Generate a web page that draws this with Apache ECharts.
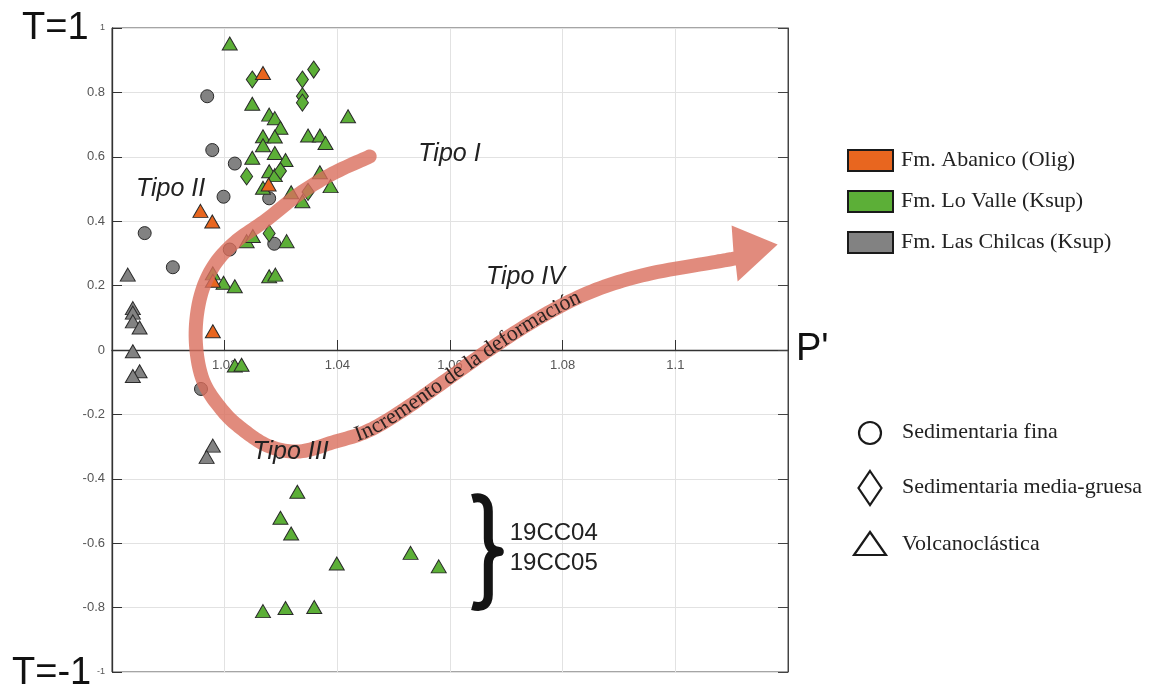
<!DOCTYPE html>
<html>
<head>
<meta charset="utf-8">
<script src="https://cdn.jsdelivr.net/npm/echarts@6/dist/echarts.min.js"></script>
<style>
  html, body { margin: 0; padding: 0; background: #ffffff; }
  #chart { width: 1149px; height: 688px; }
</style>
</head>
<body>
<div id="chart"></div>
<script>
// Lithology codes used as the third value of each sample
const FINA = 0, MEDIA = 1, VOLC = 2;

const formations = ['Fm. Abanico (Olig)', 'Fm. Lo Valle (Ksup)', 'Fm. Las Chilcas (Ksup)'];
const lithologies = ['Sedimentaria fina', 'Sedimentaria media-gruesa', 'Volcanoclástica'];

// Jelinek parameters per sample: [P', T, lithology]
const abanico = [
  [1.0268, 0.860, VOLC], [1.0278, 0.514, VOLC], [1.0157, 0.432, VOLC],
  [1.0178, 0.399, VOLC], [1.0179, 0.215, VOLC], [1.0179, 0.058, VOLC]
];

const loValle = [
  [1.0209, 0.952, VOLC], [1.0249, 0.765, VOLC], [1.0419, 0.726, VOLC],
  [1.0279, 0.731, VOLC], [1.0289, 0.720, VOLC], [1.0299, 0.690, VOLC],
  [1.0268, 0.664, VOLC], [1.0289, 0.663, VOLC], [1.0348, 0.666, VOLC],
  [1.0369, 0.666, VOLC], [1.0379, 0.643, VOLC], [1.0268, 0.636, VOLC],
  [1.0289, 0.612, VOLC], [1.0249, 0.597, VOLC], [1.0308, 0.590, VOLC],
  [1.0279, 0.555, VOLC], [1.0289, 0.543, VOLC], [1.0369, 0.552, VOLC],
  [1.0268, 0.504, VOLC], [1.0388, 0.509, VOLC], [1.0318, 0.490, VOLC],
  [1.0338, 0.462, VOLC], [1.0239, 0.338, VOLC], [1.0250, 0.354, VOLC],
  [1.0310, 0.338, VOLC], [1.0179, 0.238, VOLC], [1.0198, 0.209, VOLC],
  [1.0218, 0.198, VOLC], [1.0279, 0.229, VOLC], [1.0290, 0.234, VOLC],
  [1.0218, -0.048, VOLC], [1.0230, -0.046, VOLC], [1.0329, -0.440, VOLC],
  [1.0299, -0.521, VOLC], [1.0318, -0.570, VOLC], [1.0399, -0.663, VOLC],
  [1.0268, -0.811, VOLC], [1.0308, -0.801, VOLC], [1.0359, -0.798, VOLC],
  [1.0530, -0.630, VOLC], [1.0580, -0.672, VOLC],
  [1.0249, 0.840, MEDIA], [1.0338, 0.840, MEDIA], [1.0358, 0.871, MEDIA],
  [1.0338, 0.788, MEDIA], [1.0338, 0.768, MEDIA], [1.0239, 0.539, MEDIA],
  [1.0299, 0.556, MEDIA], [1.0348, 0.491, MEDIA], [1.0279, 0.362, MEDIA]
];

const lasChilcas = [
  [1.0169, 0.788, FINA], [1.0178, 0.621, FINA], [1.0218, 0.579, FINA],
  [1.0198, 0.476, FINA], [1.0279, 0.471, FINA], [1.0058, 0.363, FINA],
  [1.0288, 0.330, FINA], [1.0209, 0.312, FINA], [1.0108, 0.257, FINA],
  [1.0158, -0.121, FINA],
  [1.0028, 0.234, VOLC], [1.0037, 0.130, VOLC], [1.0037, 0.116, VOLC],
  [1.0037, 0.089, VOLC], [1.0049, 0.070, VOLC], [1.0037, -0.004, VOLC],
  [1.0049, -0.066, VOLC], [1.0037, -0.081, VOLC], [1.0179, -0.297, VOLC],
  [1.0168, -0.332, VOLC]
];

const xTickLabels = ['1.02', '1.04', '1.06', '1.08', '1.1'];
const yTickLabels = ['1', '0.8', '0.6', '0.4', '0.2', '0', '-0.2', '-0.4', '-0.6', '-0.8', '-1'];

// Trend of increasing deformation, traced in (P', T) space
const deformationPath = [
  [1.04574, 0.601], [1.03917, 0.548], [1.03332, 0.486], [1.02746, 0.405],
  [1.02178, 0.334], [1.01787, 0.256], [1.01557, 0.157], [1.01486, 0.033],
  [1.01610, -0.092], [1.01947, -0.185], [1.02320, -0.247], [1.02799, -0.300],
  [1.03332, -0.315], [1.03917, -0.287], [1.04521, -0.253], [1.05107, -0.194],
  [1.05870, -0.101], [1.06704, 0.002], [1.07592, 0.101], [1.08515, 0.182],
  [1.09491, 0.235], [1.10662, 0.272], [1.11053, 0.284]
];
// Arrow head: tip, then the two base corners
const deformationHead = [[1.11816, 0.328], [1.10999, 0.387], [1.11106, 0.213]];
const deformationText = 'Incremento de la deformación';

const fabricTypes = ['Tipo I', 'Tipo II', 'Tipo III', 'Tipo IV'];
const sampleNote = ['19CC04', '19CC05'];

// Anchor points (in P', T units) for the annotations
const anchors = {
  types: [[1.0599, 0.610], [1.0104, 0.499], [1.0317, -0.318], [1.0734, 0.228]],
  textStart: [1.0431, -0.266],
  brace: [1.0668, -0.626],
  note: [[1.0706, -0.570], [1.0706, -0.663]]
};

const COLORS = ['#e8661f', '#5caf37', '#828282'];
const SYMBOLS = ['circle', 'diamond', 'triangle'];
const SIZES = [13, [12, 17], [15, 13]];

function catmullRom(pts, seg) {
  const out = [];
  for (let i = 0; i < pts.length - 1; i++) {
    const p0 = pts[Math.max(i - 1, 0)], p1 = pts[i], p2 = pts[i + 1], p3 = pts[Math.min(i + 2, pts.length - 1)];
    for (let k = 0; k < seg; k++) {
      const t = k / seg, t2 = t * t, t3 = t2 * t;
      const f = (a, b, c, d) => 0.5 * (2 * b + (-a + c) * t + (2 * a - 5 * b + 4 * c - d) * t2 + (-a + 3 * b - 3 * c + d) * t3);
      out.push([f(p0[0], p1[0], p2[0], p3[0]), f(p0[1], p1[1], p2[1], p3[1])]);
    }
  }
  out.push(pts[pts.length - 1].slice());
  return out;
}

const measureCtx = document.createElement('canvas').getContext('2d');
const ARROW_FONT = '22px "Liberation Serif", "Times New Roman", serif';
const axisFont = '"Liberation Sans", Arial, sans-serif';
const serifFont = '"Liberation Serif", "Times New Roman", serif';

function renderArrow(params, api) {
  const S = catmullRom(deformationPath.map(p => api.coord(p)), 12);
  const n = S.length;
  const T = S.map((p, i) => {
    const a = S[Math.max(i - 1, 0)], b = S[Math.min(i + 1, n - 1)];
    const dx = b[0] - a[0], dy = b[1] - a[1], l = Math.hypot(dx, dy) || 1;
    return [dx / l, dy / l];
  });
  const N = T.map(t => [-t[1], t[0]]);
  const h = 7;
  const L = S.map((p, i) => [p[0] + h * N[i][0], p[1] + h * N[i][1]]);
  const R = S.map((p, i) => [p[0] - h * N[i][0], p[1] - h * N[i][1]]);
  const tip = api.coord(deformationHead[0]);
  const c1 = api.coord(deformationHead[1]), c2 = api.coord(deformationHead[2]);
  const B = S[n - 1], Nn = N[n - 1];
  const side = c => (c[0] - B[0]) * Nn[0] + (c[1] - B[1]) * Nn[1];
  const cL = side(c1) > 0 ? c1 : c2, cR = cL === c1 ? c2 : c1;
  const cap = [];
  for (let k = 1; k < 12; k++) {
    const phi = Math.PI * (1 - k / 12);
    cap.push([
      S[0][0] + h * (N[0][0] * Math.cos(phi) - T[0][0] * Math.sin(phi)),
      S[0][1] + h * (N[0][1] * Math.cos(phi) - T[0][1] * Math.sin(phi))
    ]);
  }
  const outline = L.concat([cL, tip, cR], R.slice().reverse(), cap);

  const children = [{
    type: 'polygon',
    shape: { points: outline },
    style: { fill: 'rgba(218,110,92,0.8)' }
  }];

  // lettering that follows the curve
  const arc = [0];
  for (let i = 1; i < n; i++) arc.push(arc[i - 1] + Math.hypot(S[i][0] - S[i - 1][0], S[i][1] - S[i - 1][1]));
  const st = api.coord(anchors.textStart);
  let i0 = 0, best = Infinity;
  S.forEach((p, i) => { const d = Math.hypot(p[0] - st[0], p[1] - st[1]); if (d < best) { best = d; i0 = i; } });
  measureCtx.font = ARROW_FONT;
  let s = arc[i0];
  for (const ch of deformationText) {
    const w = measureCtx.measureText(ch).width;
    const sc = s + w / 2;
    let j = i0;
    while (j < n - 2 && arc[j + 1] < sc) j++;
    const segLen = (arc[j + 1] - arc[j]) || 1;
    const u = (sc - arc[j]) / segLen;
    const x = S[j][0] + (S[j + 1][0] - S[j][0]) * u;
    const y = S[j][1] + (S[j + 1][1] - S[j][1]) * u;
    const ang = Math.atan2(S[j + 1][1] - S[j][1], S[j + 1][0] - S[j][0]);
    if (ch !== ' ') {
      children.push({
        type: 'text', x: x, y: y, rotation: -ang,
        style: {
          text: ch, font: ARROW_FONT, fill: '#2a2220',
          align: 'center', verticalAlign: 'middle',
          textAlign: 'center', textVerticalAlign: 'middle'
        }
      });
    }
    s += w;
  }
  return { type: 'group', children: children };
}

function renderNotes(params, api) {
  const children = [];
  fabricTypes.forEach((t, i) => {
    const p = api.coord(anchors.types[i]);
    children.push({
      type: 'text', x: p[0], y: p[1],
      style: {
        text: t, font: 'italic 25px "Liberation Sans", Arial, sans-serif', fill: '#222',
        align: 'center', verticalAlign: 'middle', textAlign: 'center', textVerticalAlign: 'middle'
      }
    });
  });
  sampleNote.forEach((t, i) => {
    const p = api.coord(anchors.note[i]);
    children.push({
      type: 'text', x: p[0], y: p[1],
      style: {
        text: t, font: '24px "Liberation Sans", Arial, sans-serif', fill: '#222',
        align: 'left', verticalAlign: 'middle', textAlign: 'left', textVerticalAlign: 'middle'
      }
    });
  });
  const b = api.coord(anchors.brace);
  children.push({
    type: 'path', x: b[0], y: b[1],
    shape: { pathData: 'M -16 -53 C -5 -56 0 -50 0 -40 L 0 -13 C 0 -5 3 -1 11 0 C 3 1 0 5 0 13 L 0 43 C 0 52 -5 57 -16 54' },
    style: { stroke: '#141414', lineWidth: 9, fill: null, lineJoin: 'round' }
  });
  return { type: 'group', children: children };
}

// P' tick labels sit just under the T = 0 line
function renderXLabels(params, api) {
  return {
    type: 'group',
    children: xTickLabels.map(t => {
      const p = api.coord([+t, 0]);
      return {
        type: 'text', x: p[0], y: p[1] + 15,
        style: {
          text: t, font: '13px ' + axisFont, fill: '#555',
          align: 'center', verticalAlign: 'middle', textAlign: 'center', textVerticalAlign: 'middle'
        }
      };
    })
  };
}

function scatterSeries(name, data, color, z) {
  return {
    name: name,
    type: 'scatter',
    data: data,
    z: z,
    symbol: v => SYMBOLS[v[2]],
    symbolSize: v => SIZES[v[2]],
    itemStyle: { color: color, borderColor: '#2a2a2a', borderWidth: 1, opacity: 1 },
    emphasis: { disabled: true }
  };
}

const chart = echarts.init(document.getElementById('chart'), null, { renderer: 'canvas' });

chart.setOption({
  animation: false,
  backgroundColor: '#ffffff',
  grid: {
    left: 112, top: 28, right: 361, bottom: 16,
    show: true, borderColor: '#4a4a4a', borderWidth: 1, backgroundColor: 'transparent'
  },
  xAxis: {
    type: 'value', min: 1, max: 1.12, interval: 0.02,
    axisLine: { onZero: true, lineStyle: { color: '#333', width: 1.3 } },
    axisTick: { inside: true, length: 10, lineStyle: { color: '#333' } },
    axisLabel: { show: false },
    splitLine: { show: true, lineStyle: { color: '#e2e2e2', width: 1 } }
  },
  yAxis: [{
    type: 'value', min: -1, max: 1, interval: 0.2, position: 'left',
    axisLine: { show: true, onZero: false, lineStyle: { color: '#333', width: 1.3 } },
    axisTick: { show: true, inside: true, length: 10, lineStyle: { color: '#333' } },
    axisLabel: {
      margin: 7, color: '#555', fontSize: 13, fontFamily: axisFont,
      formatter: v => {
        const s = String(+v.toFixed(1));
        if (!yTickLabels.includes(s)) return '';
        return (s === '1' || s === '-1') ? '{s|' + s + '}' : s;
      },
      rich: { s: { fontSize: 9, color: '#555', fontFamily: axisFont } }
    },
    splitLine: { show: true, lineStyle: { color: '#e2e2e2', width: 1 } }
  }, {
    type: 'value', min: -1, max: 1, interval: 0.2, position: 'right',
    axisLine: { show: true, onZero: false, lineStyle: { color: '#444', width: 1 } },
    axisTick: { show: true, inside: true, length: 10, lineStyle: { color: '#444' } },
    axisLabel: { show: false },
    splitLine: { show: false }
  }],
  legend: {
    data: formations,
    orient: 'vertical',
    left: 847, top: 149,
    padding: 0,
    icon: 'rect',
    itemWidth: 45, itemHeight: 21, itemGap: 18,
    selectedMode: false,
    itemStyle: { borderColor: '#1a1a1a', borderWidth: 2 },
    textStyle: { fontFamily: serifFont, fontSize: 22, color: '#222', padding: [0, 0, 0, 3] }
  },
  graphic: [
    { type: 'text', x: 22, y: 29, style: { text: 'T=1', font: '38px "Liberation Sans", Arial, sans-serif', fill: '#111', verticalAlign: 'middle', textVerticalAlign: 'middle' } },
    { type: 'text', x: 12, y: 674, style: { text: 'T=-1', font: '38px "Liberation Sans", Arial, sans-serif', fill: '#111', verticalAlign: 'middle', textVerticalAlign: 'middle' } },
    { type: 'text', x: 796, y: 350, style: { text: "P'", font: '38px "Liberation Sans", Arial, sans-serif', fill: '#111', verticalAlign: 'middle', textVerticalAlign: 'middle' } },
    { type: 'circle', shape: { cx: 870, cy: 433, r: 11 }, style: { fill: 'none', stroke: '#1a1a1a', lineWidth: 2.2 } },
    { type: 'polygon', shape: { points: [[870, 471], [881.5, 488], [870, 505], [858.5, 488]] }, style: { fill: 'none', stroke: '#1a1a1a', lineWidth: 2.2 } },
    { type: 'polygon', shape: { points: [[870, 532], [886, 555], [854, 555]] }, style: { fill: 'none', stroke: '#1a1a1a', lineWidth: 2.2 } },
    { type: 'text', x: 902, y: 432, style: { text: lithologies[0], font: '22px ' + serifFont, fill: '#222', verticalAlign: 'middle', textVerticalAlign: 'middle' } },
    { type: 'text', x: 902, y: 487, style: { text: lithologies[1], font: '22px ' + serifFont, fill: '#222', verticalAlign: 'middle', textVerticalAlign: 'middle' } },
    { type: 'text', x: 902, y: 544, style: { text: lithologies[2], font: '22px ' + serifFont, fill: '#222', verticalAlign: 'middle', textVerticalAlign: 'middle' } }
  ],
  series: [
    {
      type: 'custom', name: 'ejeP', coordinateSystem: 'cartesian2d',
      data: [[1.06, 0]], z: 1, silent: true,
      renderItem: renderXLabels
    },
    scatterSeries(formations[2], lasChilcas, COLORS[2], 2),
    scatterSeries(formations[1], loValle, COLORS[1], 3),
    scatterSeries(formations[0], abanico, COLORS[0], 4),
    {
      type: 'custom', name: 'deformacion', coordinateSystem: 'cartesian2d',
      data: [[1.06, 0]], z: 6, silent: true,
      renderItem: renderArrow
    },
    {
      type: 'custom', name: 'tipos', coordinateSystem: 'cartesian2d',
      data: [[1.06, 0]], z: 8, silent: true,
      renderItem: renderNotes
    }
  ]
});
</script>
</body>
</html>
